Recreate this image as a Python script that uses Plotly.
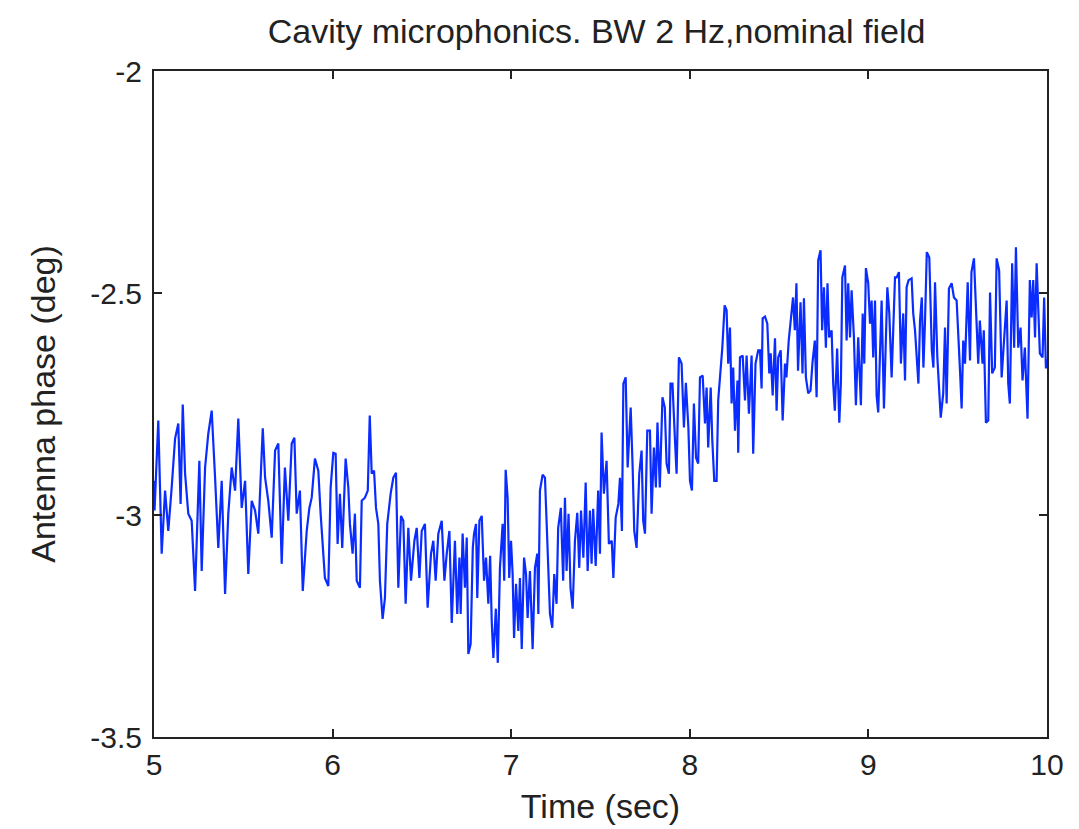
import plotly.graph_objects as go

# antenna phase trace (vertices of the noisy line)
time_sec = [
    5.000, 5.003, 5.024, 5.043, 5.062, 5.080, 5.099, 5.118, 5.136, 5.149, 5.161, 5.174, 5.192, 5.211, 5.230,
    5.254, 5.267, 5.286, 5.304, 5.323, 5.342, 5.360, 5.379, 5.398, 5.416, 5.435, 5.454, 5.472, 5.491, 5.510,
    5.528, 5.547, 5.566, 5.584, 5.609, 5.622, 5.640, 5.659, 5.678, 5.696, 5.715, 5.733, 5.752, 5.771, 5.786,
    5.799, 5.817, 5.833, 5.855, 5.870,
    5.883, 5.901, 5.920, 5.933, 5.957, 5.976, 5.989, 6.004, 6.017, 6.028, 6.041, 6.054, 6.073, 6.088, 6.097,
    6.112, 6.125, 6.135, 6.153, 6.163, 6.181, 6.197, 6.208, 6.219, 6.232, 6.243, 6.256, 6.265, 6.280, 6.293,
    6.306, 6.325, 6.340, 6.355, 6.368, 6.383, 6.396, 6.409, 6.424, 6.439, 6.458, 6.471, 6.486, 6.499, 6.517,
    6.532, 6.551, 6.564, 6.577, 6.592, 6.611, 6.626, 6.639, 6.654, 6.667, 6.685, 6.698, 6.710,
    6.717, 6.728, 6.741, 6.751, 6.760, 6.773, 6.785, 6.792, 6.803, 6.810, 6.822, 6.835, 6.848, 6.859, 6.872,
    6.882, 6.891, 6.900, 6.914, 6.925, 6.937, 6.952, 6.961, 6.969, 6.980, 6.989, 6.999, 7.008, 7.016, 7.027,
    7.040, 7.049, 7.059, 7.072, 7.083, 7.092, 7.105, 7.115, 7.120, 7.133, 7.146, 7.152, 7.161, 7.176, 7.189,
    7.198, 7.207, 7.217, 7.230, 7.241, 7.254, 7.263, 7.278, 7.291, 7.301, 7.310, 7.321, 7.332, 7.344, 7.357,
    7.370, 7.381, 7.391, 7.404, 7.417, 7.428, 7.441, 7.450, 7.459, 7.473, 7.487, 7.497, 7.506, 7.519, 7.534,
    7.547,
    7.563, 7.572, 7.585, 7.600, 7.609, 7.620, 7.628, 7.641, 7.652, 7.669, 7.680, 7.689, 7.702, 7.717, 7.730,
    7.739, 7.749, 7.762, 7.777, 7.786, 7.799, 7.810, 7.819, 7.832, 7.847, 7.860, 7.870, 7.883, 7.892, 7.903,
    7.917, 7.926, 7.939, 7.954, 7.967, 7.978, 7.992, 8.001, 8.012, 8.023, 8.035, 8.047, 8.057, 8.072, 8.085,
    8.094, 8.103, 8.117, 8.126, 8.137, 8.150, 8.159, 8.182, 8.195, 8.206, 8.215, 8.225, 8.234, 8.243, 8.253,
    8.267, 8.271, 8.281, 8.296, 8.309, 8.318, 8.331, 8.346, 8.355, 8.368, 8.383,
    8.393, 8.402, 8.408, 8.421, 8.434, 8.445, 8.453, 8.464, 8.477, 8.486, 8.495, 8.509, 8.520, 8.533, 8.541,
    8.554, 8.566, 8.578, 8.588, 8.597, 8.606, 8.620, 8.631, 8.639, 8.650, 8.663, 8.676, 8.687, 8.700, 8.710,
    8.719, 8.732, 8.741, 8.751, 8.762, 8.771, 8.780, 8.794, 8.803, 8.812, 8.825, 8.837, 8.846, 8.854, 8.869,
    8.878, 8.887, 8.897, 8.906, 8.919, 8.930, 8.943, 8.958, 8.968, 8.977, 8.986, 8.999, 9.009, 9.018, 9.027,
    9.037, 9.046, 9.055, 9.065, 9.074, 9.087, 9.098, 9.106, 9.117, 9.130, 9.139, 9.149, 9.158, 9.171, 9.182,
    9.195, 9.205, 9.214, 9.225,
    9.242, 9.251, 9.261, 9.280, 9.289, 9.299, 9.308, 9.317, 9.327, 9.341, 9.355, 9.364, 9.373, 9.386, 9.396,
    9.405, 9.419, 9.429, 9.438, 9.451, 9.466, 9.479, 9.494, 9.503, 9.513, 9.522, 9.531, 9.541, 9.556, 9.569,
    9.577, 9.591, 9.602, 9.615, 9.624, 9.639, 9.646, 9.658, 9.671, 9.681, 9.693, 9.708, 9.718, 9.732, 9.746,
    9.758, 9.774, 9.783, 9.792, 9.805, 9.816, 9.826, 9.839, 9.852, 9.863, 9.876, 9.891, 9.904, 9.914, 9.923,
    9.933, 9.942, 9.951, 9.960, 9.975, 9.984, 9.994, 10.000,
]

phase_deg = [
    -2.923, -2.990, -2.787, -3.087, -2.945, -3.036, -2.938, -2.828, -2.794, -2.975, -2.751, -2.907, -2.997, -3.013, -3.171,
    -2.878, -3.126, -2.893, -2.817, -2.765, -2.916, -3.074, -2.923, -3.178, -2.997, -2.893, -2.945, -2.783, -2.984, -2.923,
    -3.133, -2.968, -2.990, -3.042, -2.805, -2.916, -2.968, -3.051, -2.855, -2.839, -3.110, -2.893, -3.013, -2.839, -2.826,
    -2.997, -2.945, -3.171, -3.036, -2.984,
    -2.961, -2.873, -2.900, -2.997, -3.142, -3.160, -2.938, -2.860, -2.862, -3.065, -2.952, -3.074, -2.873, -2.938, -3.020,
    -3.087, -2.997, -3.148, -3.164, -2.968, -2.961, -2.945, -2.776, -2.907, -2.900, -2.984, -3.020, -3.148, -3.234, -3.187,
    -3.020, -2.952, -2.916, -2.905, -3.164, -3.002, -3.013, -3.200, -3.029, -3.148, -3.058, -3.029, -3.142, -3.036, -3.020,
    -3.209, -3.087, -3.058, -3.148, -3.042, -3.013, -3.148, -3.087, -3.036, -3.243, -3.058, -3.223, -3.096,
    -3.223, -3.042, -3.164, -3.051, -3.313, -3.290, -3.074, -3.042, -3.020, -3.187, -3.013, -3.002, -3.148, -3.096, -3.200,
    -3.092, -3.239, -3.322, -3.211, -3.333, -3.119, -3.020, -3.148, -2.898, -2.961, -3.142, -3.058, -3.133, -3.277, -3.155,
    -3.261, -3.142, -3.302, -3.096, -3.133, -3.232, -3.126, -3.261, -3.302, -3.119, -3.087, -3.223, -2.945, -2.909, -2.916,
    -3.013, -3.103, -3.223, -3.254, -3.133, -3.200, -3.029, -2.984, -3.148, -2.961, -3.126, -2.997, -3.164, -3.211, -3.058,
    -2.995, -3.119, -2.990, -3.096, -2.927, -3.126, -2.990, -3.110, -2.986, -3.115, -2.945, -3.087, -2.814, -2.952, -2.878,
    -3.065,
    -3.058, -3.142, -3.006, -2.975, -2.916, -3.036, -2.704, -2.690, -2.893, -2.758, -2.893, -3.036, -3.074, -2.907, -2.855,
    -3.013, -3.042, -2.810, -2.810, -2.997, -2.848, -2.938, -2.792, -2.938, -2.735, -2.758, -2.884, -2.907, -2.704, -2.704,
    -2.832, -2.907, -2.645, -2.659, -2.803, -2.702, -2.803, -2.923, -2.945, -2.749, -2.871, -2.884, -2.690, -2.686, -2.794,
    -2.713, -2.848, -2.713, -2.832, -2.923, -2.923, -2.742, -2.623, -2.528, -2.539, -2.659, -2.578, -2.749, -2.668, -2.810,
    -2.697, -2.860, -2.645, -2.641, -2.742, -2.641, -2.772, -2.641, -2.862, -2.659, -2.629,
    -2.629, -2.715, -2.557, -2.553, -2.569, -2.681, -2.636, -2.731, -2.602, -2.765, -2.645, -2.629, -2.787, -2.659, -2.690,
    -2.607, -2.555, -2.510, -2.584, -2.478, -2.675, -2.521, -2.681, -2.512, -2.690, -2.726, -2.720, -2.656, -2.607, -2.735,
    -2.426, -2.404, -2.584, -2.487, -2.623, -2.478, -2.600, -2.584, -2.704, -2.765, -2.625, -2.792, -2.702, -2.465, -2.438,
    -2.607, -2.478, -2.600, -2.494, -2.600, -2.753, -2.600, -2.753, -2.546, -2.659, -2.444, -2.478, -2.569, -2.517, -2.645,
    -2.517, -2.731, -2.769, -2.634, -2.517, -2.760, -2.607, -2.487, -2.546, -2.690, -2.584, -2.465, -2.465, -2.453, -2.659,
    -2.546, -2.697, -2.487, -2.471,
    -2.467, -2.546, -2.584, -2.704, -2.562, -2.510, -2.668, -2.562, -2.408, -2.420, -2.629, -2.668, -2.476, -2.645, -2.720,
    -2.781, -2.726, -2.578, -2.749, -2.490, -2.478, -2.510, -2.517, -2.584, -2.675, -2.760, -2.607, -2.659, -2.476, -2.652,
    -2.453, -2.422, -2.532, -2.659, -2.562, -2.659, -2.584, -2.792, -2.787, -2.499, -2.681, -2.668, -2.422, -2.449, -2.690,
    -2.623, -2.517, -2.704, -2.749, -2.433, -2.623, -2.397, -2.623, -2.578, -2.697, -2.623, -2.783, -2.471, -2.555, -2.471,
    -2.600, -2.433, -2.517, -2.636, -2.645, -2.510, -2.670, -2.650,
]

x_ticks = [5, 6, 7, 8, 9, 10]
y_ticks = [-3.5, -3, -2.5, -2]
y_tick_text = ["-3.5", "-3", "-2.5", "-2"]

font = "Liberation Sans, Arial, sans-serif"
ink = "#222222"

fig = go.Figure()
fig.add_trace(go.Scatter(
    x=time_sec, y=phase_deg, mode="lines",
    line=dict(color="#0a2cff", width=2.2),
    showlegend=False,
))

axis_style = dict(
    showline=True, mirror="ticks", linecolor=ink, linewidth=2,
    ticks="inside", ticklen=8, tickwidth=1.5, tickcolor=ink,
    showgrid=False, zeroline=False,
    tickfont=dict(family=font, size=30, color=ink),
)

fig.update_layout(
    width=1079, height=829,
    paper_bgcolor="white", plot_bgcolor="white",
    margin=dict(l=146, r=40, t=63, b=100),
    title=dict(text="Cavity microphonics. BW 2 Hz,nominal field", x=0.5455, xanchor="center",
               y=0.972, yanchor="middle", font=dict(family=font, size=34, color=ink)),
    xaxis=dict(range=[5, 10], tickvals=x_ticks,
               title=dict(text="Time (sec)", font=dict(family=font, size=34, color=ink), standoff=14),
               **axis_style),
    yaxis=dict(range=[-3.5, -2], tickvals=y_ticks, ticktext=y_tick_text, ticklabelstandoff=4,
               title=dict(text="Antenna phase (deg)", font=dict(family=font, size=34, color=ink), standoff=24),
               **axis_style),
)

fig.write_html("out.html")
